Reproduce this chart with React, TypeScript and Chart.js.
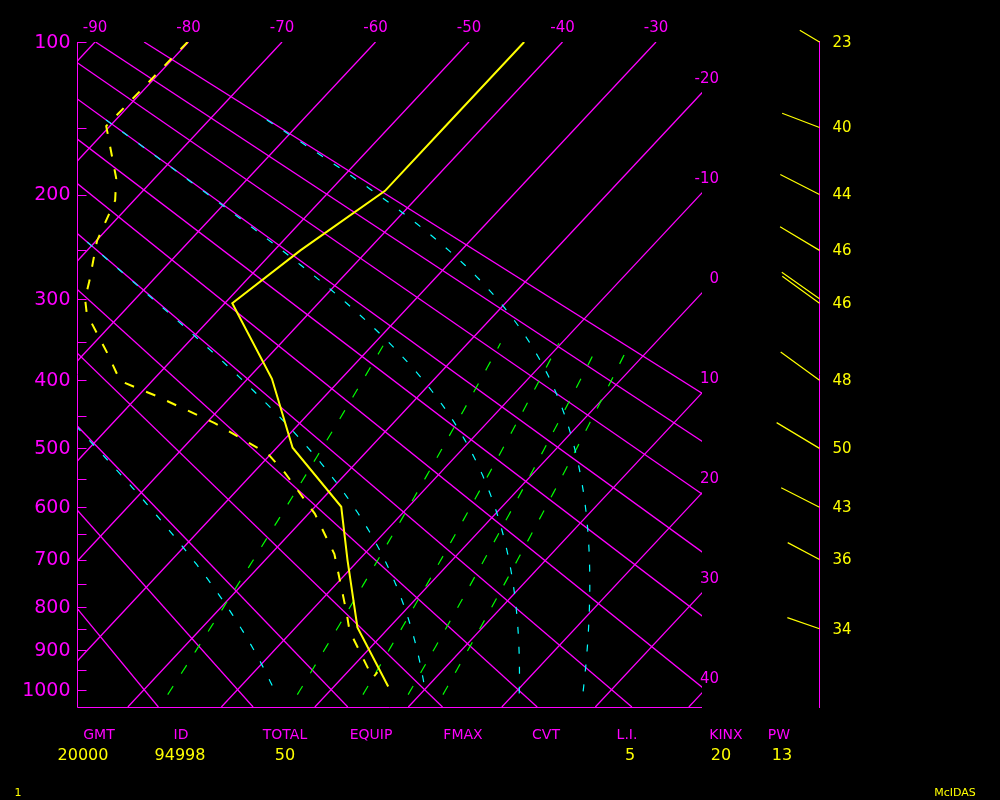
import React, { useEffect, useRef } from "react";
import { Chart, registerables } from "chart.js";

Chart.register(...registerables);

// ---------------- data ----------------
const PRESSURE_TICKS = [100, 150, 200, 250, 300, 350, 400, 450, 500, 550, 600, 650, 700, 750, 800, 850, 900, 950, 1000];
const PRESSURE_LABELS = [100, 200, 300, 400, 500, 600, 700, 800, 900, 1000];
const ISOTHERMS = [-90, -80, -70, -60, -50, -40, -30, -20, -10, 0, 10, 20, 30, 40];
const TOP_TEMP_LABELS = [-90, -80, -70, -60, -50, -40, -30];
const RIGHT_TEMP_LABELS = [-20, -10, 0, 10, 20, 30, 40];
const DRY_ADIABATS_C = [-20, -10, 0, 10, 20, 30, 40, 50, 60, 70, 80, 90];
const MOIST_THETA_E_C = [0, 30, 60, 90];
const MIXING_RATIOS = [1, 3, 5, 7, 9];

const TEMP_P = [100, 150, 197, 250, 305, 398, 499, 599, 701, 847, 992];
const TEMP_C = [-44.1, -44.1, -44.1, -47.2, -49.2, -37.4, -28.3, -17.2, -11.2, -3.4, 5.8];

const DEW_P = [100, 149, 187, 205, 241, 281, 300, 317, 365, 401, 421, 461, 509, 540, 612, 689, 814, 855, 970, 955];
const DEW_C = [-80.1, -80.4, -74.1, -72.0, -69.9, -66.7, -65.4, -63.7, -57.5, -53.4, -48.2, -39.1, -30.3, -26.6, -19.3, -13.2, -6.0, -3.9, 3.3, 3.2];

const WIND_P = [100, 150, 200, 250, 300, 305, 400, 500, 600, 700, 850];
const WIND_DIR = [301, 291, 297, 301, 305, 306, 306, 301, 297, 298, 289];
const WIND_SPD = [23, 40, 44, 46, 46, 46, 48, 50, 43, 36, 34];

const STAT_NAMES = ["GMT", "ID", "TOTAL", "EQUIP", "FMAX", "CVT", "L.I.", "KINX", "PW"];
const STAT_VALUES = ["20000", "94998", "50", "", "", "", "5", "20", "13"];

// ---------------- diagram geometry ----------------
const KAPPA = 0.285;
const P_TOP = 100;
const P_BOT = 1046;
const SKEW = 18.79; // degC per unit of p^kappa
const X_MIN = -91.82;
const X_MAX = -25.08;

// layout (pixels)
const PAD = { left: 78, top: 42, right: 298, bottom: 93 };
const WIND_AXIS_X = 819.5;
const STAT_NAME_X = [99, 181, 285, 371, 463, 546, 627, 726, 779];
const STAT_VALUE_X = [83, 180, 285, 371, 463, 546, 630, 721, 782];

const MAGENTA = "#ff00ff";
const YELLOW = "#ffff00";
const CYAN = "#00ffff";
const GREEN = "#00ff00";
const FONT = "'DejaVu Sans', 'Liberation Sans', sans-serif";

const yv = (p: number) => Math.pow(p, KAPPA);
const xv = (t: number, p: number) => t - SKEW * (yv(p) - yv(P_TOP));
const pt = (t: number, p: number) => ({ x: xv(t, p), y: yv(p) });

const es = (tc: number) => 6.112 * Math.exp((17.67 * tc) / (tc + 243.5));
const thetaE = (tk: number, p: number) => {
  const e = es(tk - 273.15);
  if (e >= p * 0.5) return Infinity;
  const rs = (0.622 * e) / (p - e);
  return tk * Math.pow(1000 / p, KAPPA) * Math.exp((2.5e6 * rs) / (1004 * tk));
};
const moistT = (thK: number, p: number) => {
  let lo = 150, hi = 330;
  for (let i = 0; i < 60; i++) {
    const mid = (lo + hi) / 2;
    if (thetaE(mid, p) > thK) hi = mid;
    else lo = mid;
  }
  return (lo + hi) / 2 - 273.15;
};
const mixT = (w: number, p: number) => {
  const r = w / 1000;
  const e = (r * p) / (0.622 + r);
  const L = Math.log(e / 6.112);
  return (243.5 * L) / (17.67 - L);
};

const lineDs = (data: any[], color: string, width: number, dash: number[], order: number) => ({
  data,
  borderColor: color,
  borderWidth: width,
  borderDash: dash,
  pointRadius: 0,
  pointHoverRadius: 0,
  fill: false,
  tension: 0,
  order,
});

const decor = {
  id: "skewtDecor",
  beforeDraw(chart: any) {
    const ctx = chart.ctx;
    ctx.save();
    ctx.fillStyle = "#000";
    ctx.fillRect(0, 0, chart.width, chart.height);
    ctx.restore();
  },
  afterDraw(chart: any) {
    const ctx = chart.ctx;
    const xs = chart.scales.x;
    const ys = chart.scales.y;
    const area = chart.chartArea;
    const py = (p: number) => ys.getPixelForValue(yv(p));
    ctx.save();
    ctx.lineWidth = 1;
    ctx.setLineDash([]);

    // left axis + bottom border
    ctx.strokeStyle = MAGENTA;
    const lx = Math.round(area.left) - 0.5;
    const by = Math.round(area.bottom) + 0.5;
    ctx.beginPath();
    ctx.moveTo(lx, Math.round(area.top));
    ctx.lineTo(lx, by);
    ctx.lineTo(Math.round(area.right), by);
    ctx.stroke();

    // pressure ticks
    ctx.beginPath();
    PRESSURE_TICKS.forEach((p) => {
      const y = Math.round(py(p)) + 0.5;
      ctx.moveTo(lx, y);
      ctx.lineTo(lx + 9, y);
    });
    ctx.stroke();

    // pressure labels
    ctx.fillStyle = MAGENTA;
    ctx.font = `19px ${FONT}`;
    ctx.textAlign = "right";
    ctx.textBaseline = "middle";
    PRESSURE_LABELS.forEach((p) => ctx.fillText(String(p), lx - 7, py(p) + 1));

    // top isotherm labels
    ctx.font = `15px ${FONT}`;
    ctx.textAlign = "center";
    TOP_TEMP_LABELS.forEach((t) => {
      ctx.fillText(String(t), xs.getPixelForValue(xv(t, P_TOP)), area.top - 14);
    });

    // right isotherm labels
    ctx.textAlign = "right";
    RIGHT_TEMP_LABELS.forEach((t) => {
      const yy = yv(P_TOP) + (t - X_MAX) / SKEW;
      const y = ys.getPixelForValue(yy);
      ctx.fillText(String(t), area.right + 17, y - 14);
    });

    // wind axis
    ctx.strokeStyle = MAGENTA;
    ctx.beginPath();
    ctx.moveTo(WIND_AXIS_X, Math.round(area.top) - 1);
    ctx.lineTo(WIND_AXIS_X, Math.round(area.bottom) + 1);
    ctx.stroke();

    // wind sticks
    ctx.strokeStyle = YELLOW;
    ctx.lineWidth = 1.2;
    ctx.beginPath();
    WIND_P.forEach((p, i) => {
      const y0 = py(p);
      const a = (WIND_DIR[i] * Math.PI) / 180;
      const len = WIND_SPD[i];
      ctx.moveTo(WIND_AXIS_X, y0);
      ctx.lineTo(WIND_AXIS_X + len * Math.sin(a), y0 - len * Math.cos(a));
    });
    ctx.stroke();

    // wind labels
    ctx.fillStyle = YELLOW;
    ctx.font = `15px ${FONT}`;
    ctx.textAlign = "left";
    WIND_P.forEach((p, i) => {
      const y0 = py(p);
      if (i + 1 < WIND_P.length && Math.abs(py(WIND_P[i + 1]) - y0) < 10) return;
      ctx.fillText(String(WIND_SPD[i]), WIND_AXIS_X + 13, y0 + 1);
    });

    // stats
    ctx.textAlign = "center";
    ctx.font = `14px ${FONT}`;
    ctx.fillStyle = MAGENTA;
    STAT_NAMES.forEach((s, i) => ctx.fillText(s, STAT_NAME_X[i], 735));
    ctx.font = `16px ${FONT}`;
    ctx.fillStyle = YELLOW;
    STAT_VALUES.forEach((s, i) => {
      if (s) ctx.fillText(s, STAT_VALUE_X[i], 756);
    });

    // footer
    ctx.font = `11px ${FONT}`;
    ctx.fillText("1", 18, 793);
    ctx.fillText("McIDAS", 955, 793);
    ctx.restore();
  },
};

export default function App() {
  const ref = useRef<HTMLCanvasElement | null>(null);

  useEffect(() => {
    document.body.style.margin = "0";
    document.body.style.background = "#000";
    const canvas = ref.current;
    if (!canvas) return;

    const datasets: any[] = [];
    // sounding on top
    datasets.push(lineDs(TEMP_P.map((p, i) => pt(TEMP_C[i], p)), YELLOW, 2, [], 0));
    datasets.push(lineDs(DEW_P.map((p, i) => pt(DEW_C[i], p)), YELLOW, 2, [10, 13], 1));

    // moist adiabats
    MOIST_THETA_E_C.forEach((th) => {
      const pts: any[] = [];
      for (let p = 145; p <= 1010; p += 5) pts.push(pt(moistT(th + 273.15, p), p));
      datasets.push(lineDs(pts, CYAN, 1.2, [7, 13], 3));
    });

    // mixing ratio lines
    MIXING_RATIOS.forEach((w) => {
      const pts: any[] = [];
      for (let p = 1013; p >= 352; p -= 10) pts.push(pt(mixT(w, p), p));
      pts.push(pt(mixT(w, 352), 352));
      datasets.push(lineDs(pts, GREEN, 1.2, [10, 15], 4));
    });

    // isotherms
    ISOTHERMS.forEach((t) => {
      datasets.push(lineDs([pt(t, P_TOP), pt(t, P_BOT)], MAGENTA, 1.3, [], 5));
    });

    // dry adiabats
    DRY_ADIABATS_C.forEach((th) => {
      const tAt = (p: number) => (th + 273.15) * Math.pow(p / 1000, KAPPA) - 273.15;
      datasets.push(lineDs([pt(tAt(P_TOP), P_TOP), pt(tAt(P_BOT), P_BOT)], MAGENTA, 1.3, [], 6));
    });

    const chart = new Chart(canvas, {
      type: "line",
      data: { datasets },
      options: {
        responsive: false,
        animation: false,
        devicePixelRatio: 1,
        events: [],
        layout: { padding: PAD },
        plugins: { legend: { display: false }, tooltip: { enabled: false } },
        scales: {
          x: { type: "linear", min: X_MIN, max: X_MAX, display: false },
          y: { type: "linear", min: yv(P_TOP), max: yv(P_BOT), reverse: true, display: false },
        },
      },
      plugins: [decor],
    } as any);

    return () => chart.destroy();
  }, []);

  return (
    <canvas
      ref={ref}
      width={1000}
      height={800}
      style={{ position: "fixed", left: 0, top: 0, width: 1000, height: 800, display: "block" }}
    />
  );
}
